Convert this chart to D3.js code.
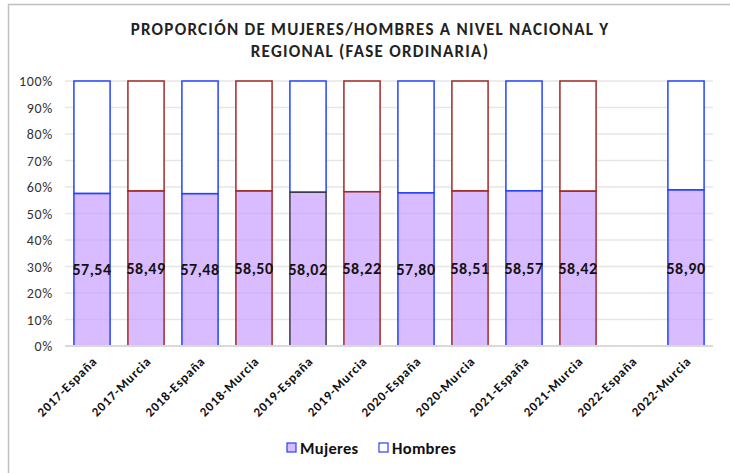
<!DOCTYPE html>
<html><head><meta charset="utf-8">
<script src="https://cdn.jsdelivr.net/npm/d3@7"></script>
<style>body{margin:0;background:#fff}svg{display:block}</style>
</head><body>
<svg id="c" width="730" height="473"></svg>
<script>
const categories = ["2017-España","2017-Murcia","2018-España","2018-Murcia","2019-España","2019-Murcia","2020-España","2020-Murcia","2021-España","2021-Murcia","2022-España","2022-Murcia"];
const mujeres = [57.54,58.49,57.48,58.50,58.02,58.22,57.80,58.51,58.57,58.42,null,58.90];
const yTicks = [0,10,20,30,40,50,60,70,80,90,100];
const titleLines = ["PROPORCIÓN DE MUJERES/HOMBRES A NIVEL NACIONAL Y","REGIONAL (FASE ORDINARIA)"];
const seriesNames = ["Mujeres","Hombres"];
const hombresStroke = ["#2443ff","#a02a26","#2443ff","#a02a26","#2443ff","#a02a26","#2443ff","#a02a26","#2443ff","#a02a26","#2443ff","#2443ff"];
const mujeresStroke = ["#2443ff","#a02a26","#2443ff","#a02a26","#3a3a4a","#a02a26","#2443ff","#a02a26","#2443ff","#a02a26","#2443ff","#2443ff"];

const svg = d3.select("#c");
const font = "Carlito, Calibri, Lato, 'Open Sans', sans-serif";
svg.append("rect").attr("x",8.5).attr("y",4.5).attr("width",760).attr("height",500)
  .attr("fill","none").attr("stroke","#bfbfbf").attr("stroke-width",1.5);

const x = d3.scaleBand().domain(categories).range([65,713]).paddingInner(0.33).paddingOuter(0.165);
const y = d3.scaleLinear().domain([0,100]).range([346,81]);
const loc = d3.formatLocale({decimal:",",thousands:".",grouping:[3],currency:["","€"]});
const fmt = loc.format(".2f");

// gridlines
svg.append("g").selectAll("line").data(yTicks.filter(d=>d>0)).join("line")
  .attr("x1",65).attr("x2",713).attr("y1",d=>y(d)).attr("y2",d=>y(d))
  .attr("stroke","#e6e6e6").attr("stroke-width",1.5);

// y tick labels
const yAxis = d3.axisLeft(y).tickValues(yTicks).tickFormat(d=>d+"%").tickSize(0).tickPadding(0);
const ya = svg.append("g").attr("transform","translate(53,0)").call(yAxis);
ya.select(".domain").remove();
ya.selectAll("text").attr("font-family",font).attr("font-size",14).attr("letter-spacing",0.7)
  .attr("fill","#333").attr("dy","0.35em");

const data = categories.map((c,i)=>({c,i,v:mujeres[i]})).filter(d=>d.v!==null);

// hombres
svg.append("g").selectAll("rect").data(data).join("rect")
  .attr("x",d=>x(d.c)).attr("width",x.bandwidth())
  .attr("y",y(100)).attr("height",d=>y(d.v)-y(100))
  .attr("fill","#fff").attr("stroke",d=>hombresStroke[d.i]).attr("stroke-width",1.5);
// mujeres
svg.append("g").selectAll("rect").data(data).join("rect")
  .attr("x",d=>x(d.c)).attr("width",x.bandwidth())
  .attr("y",d=>y(d.v)).attr("height",d=>y(0)-y(d.v))
  .attr("fill","#c9a0ff").attr("fill-opacity",0.7)
  .attr("stroke",d=>mujeresStroke[d.i]).attr("stroke-width",1.5);

// axis line
svg.append("line").attr("x1",65).attr("x2",713).attr("y1",y(0)).attr("y2",y(0))
  .attr("stroke","#d9d9d9").attr("stroke-width",2);

// value labels
svg.append("g").selectAll("text").data(data).join("text")
  .attr("x",d=>x(d.c)+x.bandwidth()/2).attr("y",d=>y(d.v/2)).attr("dy","0.35em")
  .attr("text-anchor","middle").attr("font-family",font).attr("font-weight","bold")
  .attr("font-size",16).attr("letter-spacing",0.5).attr("fill","#111").text(d=>fmt(d.v));

// x labels
const xAxis = d3.axisBottom(x).tickSize(0).tickPadding(0);
const xa = svg.append("g").attr("transform","translate(0,356)").call(xAxis);
xa.select(".domain").remove();
xa.selectAll("text").attr("font-family",font).attr("font-weight","bold").attr("font-size",13)
  .attr("letter-spacing",0.9)
  .attr("fill","#111").attr("text-anchor","end").attr("dy",0).attr("y",0)
  .attr("transform","translate(6,6) rotate(-45)");

// title
svg.append("g").selectAll("text").data(titleLines).join("text")
  .attr("x",370).attr("y",(d,i)=>35+i*22).attr("text-anchor","middle")
  .attr("font-family",font).attr("font-weight","bold").attr("font-size",17)
  .attr("fill","#222").attr("letter-spacing",1.25).text(d=>d);

// legend
const leg = svg.append("g");
const lx = [287,379];
seriesNames.forEach((n,i)=>{
  leg.append("rect").attr("x",lx[i]).attr("y",443).attr("width",9).attr("height",9)
    .attr("fill",i===0?"#c9a0ff":"#fff").attr("fill-opacity",i===0?0.7:1)
    .attr("stroke","#2443ff").attr("stroke-width",1.2);
  leg.append("text").attr("x",lx[i]+13).attr("y",448).attr("dy","0.35em")
    .attr("font-family",font).attr("font-weight","bold").attr("font-size",16.5).attr("letter-spacing",0.3)
    .attr("fill","#111").text(n);
});
</script>
</body></html>
